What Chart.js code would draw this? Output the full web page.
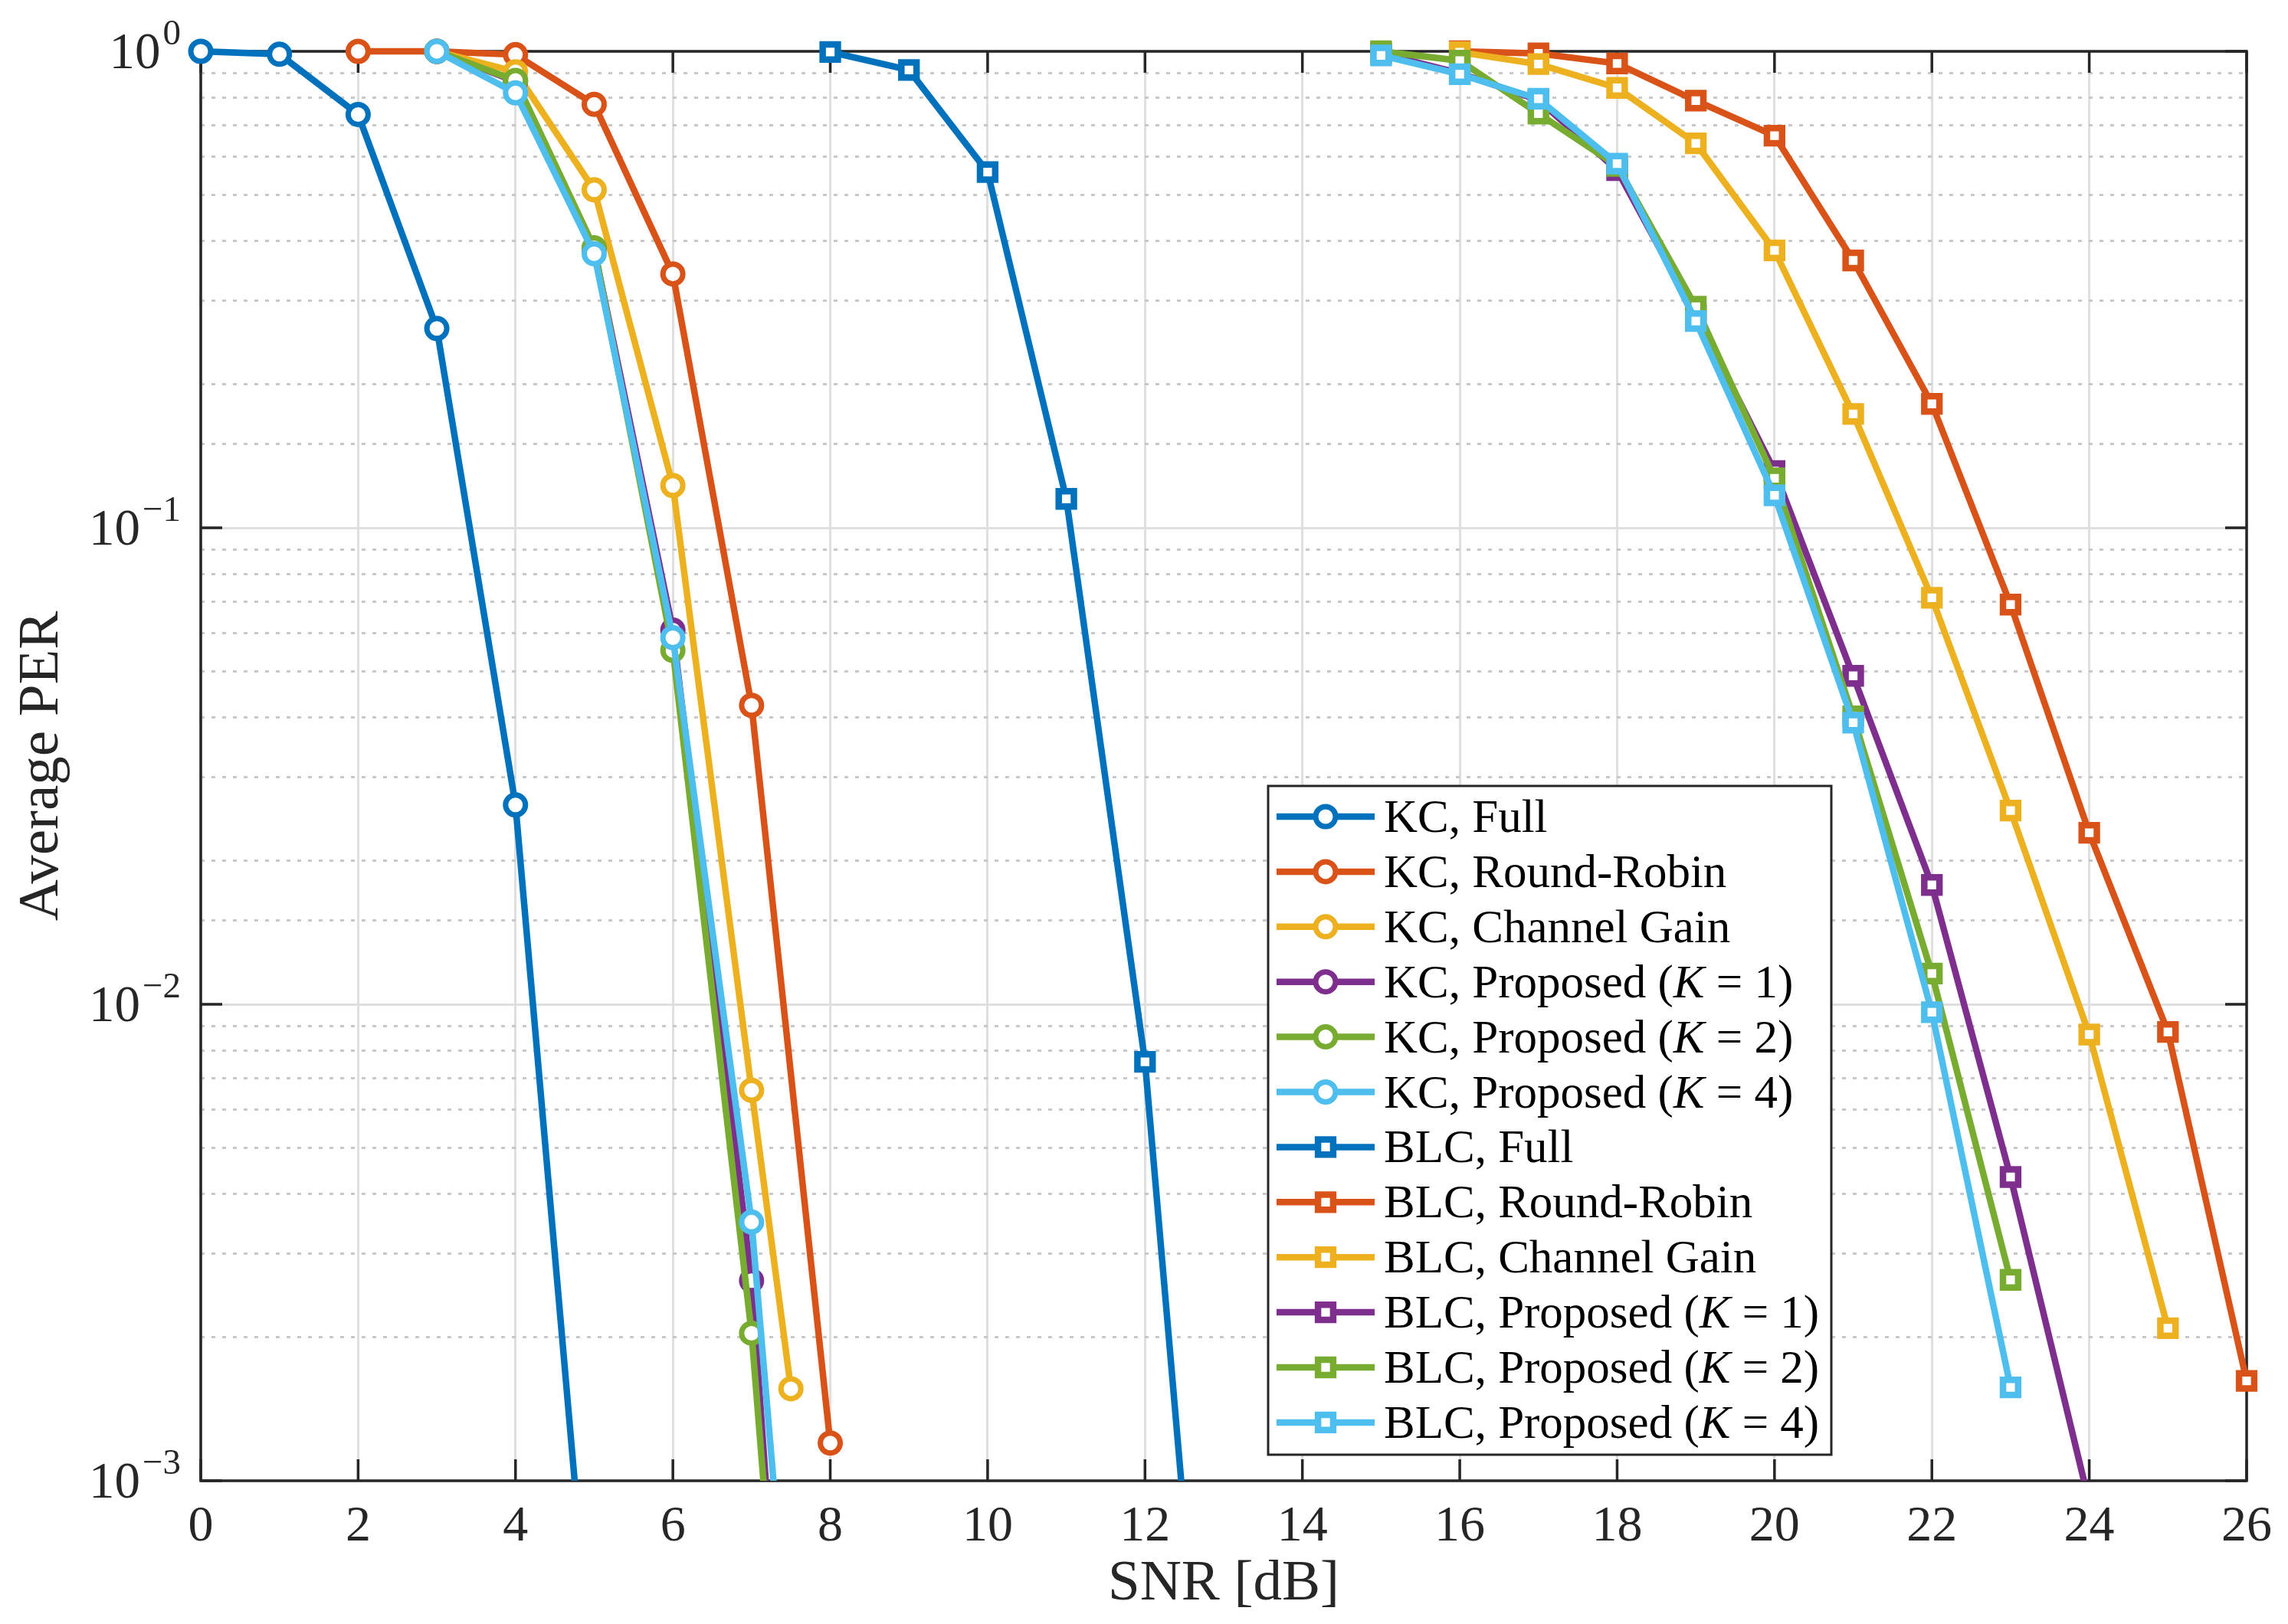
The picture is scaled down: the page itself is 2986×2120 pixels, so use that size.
<!DOCTYPE html>
<html>
<head>
<meta charset="utf-8">
<title>Average PER vs SNR</title>
<script src="https://cdn.jsdelivr.net/npm/chart.js@4.4.1/dist/chart.umd.min.js"></script>
<style>
  html, body { margin: 0; padding: 0; background: #fff; }
  #wrap { width: 2986px; height: 2120px; }
</style>
</head>
<body>
<div id="wrap"><canvas id="perChart" width="2986" height="2120"></canvas></div>
<script>
// ---- data (SNR in dB, PER) ----
const snrKcFull = [0, 1, 2, 3, 4, 5];
const perKcFull = [1.0, 0.986, 0.737, 0.262, 0.0262, 0.00034];
const snrKcRR = [2, 3, 4, 5, 6, 7, 8];
const perKcRR = [1.0, 1.0, 0.984, 0.774, 0.341, 0.0424, 0.0012];
const snrKc = [3, 4, 5, 6, 7, 7.5];
const perKcCG = [1.0, 0.906, 0.512, 0.1227, 0.0066, 0.00156];
const perKcP1 = [1.0, 0.865, 0.385, 0.061, 0.00263, 0.00018];
const perKcP2 = [1.0, 0.869, 0.387, 0.0553, 0.00204, 0.00019];
const perKcP4 = [1.0, 0.818, 0.376, 0.0588, 0.00349, 0.00037];

const snrBlcFull = [8, 9, 10, 11, 12, 13];
const perBlcFull = [0.997, 0.914, 0.558, 0.115, 0.00757, 0.000093];
const snrBlcRR = [16, 17, 18, 19, 20, 21, 22, 23, 24, 25, 26];
const perBlcRR = [1.0, 0.99, 0.943, 0.788, 0.665, 0.364, 0.182, 0.069, 0.0229, 0.00875, 0.00162];
const snrBlcCG = [16, 17, 18, 19, 20, 21, 22, 23, 24, 25];
const perBlcCG = [0.996, 0.94, 0.838, 0.641, 0.382, 0.1734, 0.0713, 0.0255, 0.00864, 0.00209];
const snrBlcP1 = [15, 16, 17, 18, 19, 20, 21, 22, 23, 24];
const perBlcP1 = [0.99, 0.9, 0.79, 0.563, 0.28, 0.1316, 0.0489, 0.0178, 0.00434, 0.0009];
const snrBlcP = [15, 16, 17, 18, 19, 20, 21, 22, 23];
const perBlcP2 = [1.0, 0.956, 0.74, 0.575, 0.291, 0.127, 0.0402, 0.0116, 0.00264];
const perBlcP4 = [0.98, 0.895, 0.795, 0.581, 0.2715, 0.117, 0.039, 0.00962, 0.00157];

const seriesLabels = [
  'KC, Full', 'KC, Round-Robin', 'KC, Channel Gain',
  'KC, Proposed (K = 1)', 'KC, Proposed (K = 2)', 'KC, Proposed (K = 4)',
  'BLC, Full', 'BLC, Round-Robin', 'BLC, Channel Gain',
  'BLC, Proposed (K = 1)', 'BLC, Proposed (K = 2)', 'BLC, Proposed (K = 4)'
];
const xTicks = [0, 2, 4, 6, 8, 10, 12, 14, 16, 18, 20, 22, 24, 26];
const yTickExps = [0, -1, -2, -3];

// matlab default line colours
const palette = ['#0072BD', '#D95319', '#EDB120', '#7E2F8E', '#77AC30', '#4DBEEE'];
const ink = '#262626';
const serif = '"Liberation Serif", "Times New Roman", serif';

function pts(xs, ys) {
  return xs.map(function (x, i) { return { x: x, y: ys[i] }; });
}

const seriesData = [
  pts(snrKcFull, perKcFull), pts(snrKcRR, perKcRR), pts(snrKc, perKcCG),
  pts(snrKc, perKcP1), pts(snrKc, perKcP2), pts(snrKc, perKcP4),
  pts(snrBlcFull, perBlcFull), pts(snrBlcRR, perBlcRR), pts(snrBlcCG, perBlcCG),
  pts(snrBlcP1, perBlcP1), pts(snrBlcP, perBlcP2), pts(snrBlcP, perBlcP4)
];

const datasets = seriesData.map(function (d, i) {
  const col = palette[i % 6];
  const square = i >= 6;
  return {
    label: seriesLabels[i],
    data: d,
    borderColor: col,
    backgroundColor: col,
    borderWidth: 8.5,
    pointStyle: square ? 'rect' : 'circle',
    pointRadius: square ? 14 : 13,
    pointBorderWidth: square ? 8.5 : 7,
    pointBackgroundColor: '#ffffff',
    pointBorderColor: col,
    tension: 0,
    order: seriesData.length - 1 - i,   // later series on top, like matlab
    clip: { left: false, top: false, right: false, bottom: 0 }
  };
});

function isDecade(v) {
  const l = Math.log10(v);
  return Math.abs(l - Math.round(l)) < 1e-6;
}

// box, inward ticks and y tick labels with superscripts
const framePlugin = {
  id: 'frame',
  beforeDatasetsDraw(chart) {
    const ctx = chart.ctx;
    const a = chart.chartArea;
    const xs = chart.scales.x, ys = chart.scales.y;
    ctx.save();
    ctx.strokeStyle = ink;
    ctx.lineWidth = 3.5;
    ctx.strokeRect(a.left, a.top, a.right - a.left, a.bottom - a.top);
    ctx.beginPath();
    xTicks.forEach(function (v) {
      const px = xs.getPixelForValue(v);
      ctx.moveTo(px, a.bottom); ctx.lineTo(px, a.bottom - 28);
      ctx.moveTo(px, a.top); ctx.lineTo(px, a.top + 28);
    });
    yTickExps.forEach(function (e) {
      const py = ys.getPixelForValue(Math.pow(10, e));
      ctx.moveTo(a.left, py); ctx.lineTo(a.left + 28, py);
      ctx.moveTo(a.right, py); ctx.lineTo(a.right - 28, py);
    });
    ctx.stroke();

    // y tick labels 10^e
    ctx.fillStyle = ink;
    ctx.textBaseline = 'alphabetic';
    yTickExps.forEach(function (e) {
      const py = ys.getPixelForValue(Math.pow(10, e));
      const sup = e === 0 ? '0' : '\u2212' + Math.abs(e);
      ctx.font = '47px ' + serif;
      const wSup = ctx.measureText(sup).width;
      ctx.textAlign = 'right';
      ctx.fillText(sup, 236, py - 9);
      ctx.font = '67px ' + serif;
      ctx.fillText('10', 236 - wSup - 3, py + 22);
    });
    ctx.restore();
  }
};

// legend box with italic K
const legendPlugin = {
  id: 'perLegend',
  afterDraw(chart) {
    const ctx = chart.ctx;
    const box = { x: 1655, y: 1026, w: 735, h: 873 };
    const rowH = 71.9, firstRow = 1066;
    ctx.save();
    ctx.fillStyle = '#ffffff';
    ctx.fillRect(box.x, box.y, box.w, box.h);
    ctx.strokeStyle = ink;
    ctx.lineWidth = 3;
    ctx.strokeRect(box.x, box.y, box.w, box.h);
    chart.data.datasets.forEach(function (ds, i) {
      const cy = firstRow + i * rowH;
      ctx.strokeStyle = ds.borderColor;
      ctx.lineWidth = ds.borderWidth;
      ctx.beginPath();
      ctx.moveTo(1666, cy); ctx.lineTo(1794, cy);
      ctx.stroke();
      ctx.lineWidth = ds.pointBorderWidth;
      ctx.fillStyle = '#ffffff';
      ctx.beginPath();
      if (ds.pointStyle === 'rect') {
        const s = ds.pointRadius * Math.SQRT1_2;
        ctx.rect(1730 - s, cy - s, 2 * s, 2 * s);
      } else {
        ctx.arc(1730, cy, ds.pointRadius, 0, Math.PI * 2);
      }
      ctx.fill();
      ctx.stroke();

      // label, K set in italics
      ctx.fillStyle = '#000000';
      ctx.textAlign = 'left';
      ctx.textBaseline = 'alphabetic';
      let tx = 1806;
      const parts = ds.label.split(/\b(K)(?= =)/);
      parts.forEach(function (p) {
        if (!p) return;
        ctx.font = (p === 'K' ? 'italic ' : '') + '61px ' + serif;
        ctx.fillText(p, tx, cy + 20);
        tx += ctx.measureText(p).width;
      });
    });
    ctx.restore();
  }
};

new Chart(document.getElementById('perChart'), {
  type: 'line',
  data: { datasets: datasets },
  options: {
    responsive: false,
    devicePixelRatio: 1,
    animation: false,
    layout: { padding: { top: 67, right: 46, left: 0, bottom: 0 } },
    plugins: { legend: { display: false }, tooltip: { enabled: false } },
    scales: {
      x: {
        type: 'linear',
        min: 0,
        max: 26,
        afterBuildTicks: function (s) { s.ticks = xTicks.map(function (v) { return { value: v }; }); },
        afterFit: function (s) { s.height = 187; },
        ticks: { autoSkip: false, maxRotation: 0, padding: 21, color: ink, font: { family: serif, size: 66 } },
        grid: { color: '#dfdfdf', lineWidth: 3, drawTicks: false },
        border: { display: false },
        title: { display: true, text: 'SNR [dB]', color: ink, font: { family: serif, size: 75 }, padding: 7 }
      },
      y: {
        type: 'logarithmic',
        min: 0.001,
        max: 1,
        afterFit: function (s) { s.width = 262; },
        ticks: { display: false, autoSkip: false },
        grid: {
          drawTicks: false,
          lineWidth: 3,
          color: function (c) { return (c.tick && !isDecade(c.tick.value)) ? '#c8c8c8' : '#dfdfdf'; }
        },
        border: {
          display: false,
          dash: function (c) { return (c.tick && !isDecade(c.tick.value)) ? [5, 9] : []; }
        },
        title: { display: true, text: 'Average PER', color: ink, font: { family: serif, size: 75 }, padding: 10 }
      }
    }
  },
  plugins: [framePlugin, legendPlugin]
});
</script>
</body>
</html>
